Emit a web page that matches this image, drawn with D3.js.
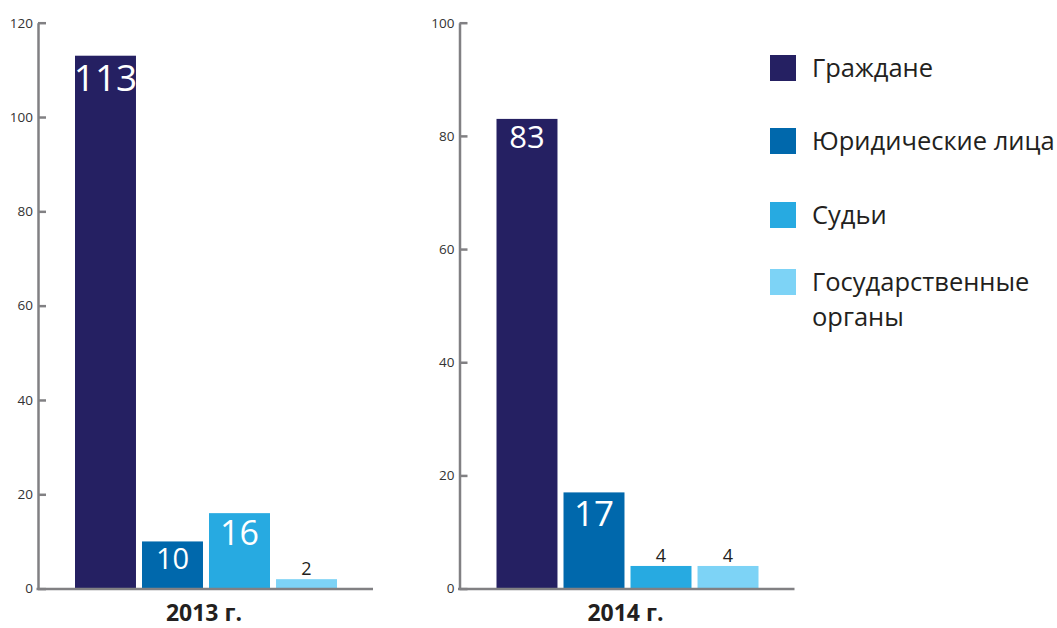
<!DOCTYPE html>
<html>
	<head>
		<script type="text/javascript" src="https://cdn.jsdelivr.net/npm/d3@7/dist/d3.min.js"></script>
		<style>
body {
	margin: 0;
	background-color: white;
}

text {
	font-family: "Open Sans", "Noto Sans", sans-serif;
}

text.tick-label {
	fill: #333;
	font-size: 13.5px;
}

text.year {
	text-anchor: middle;
	fill: #231f20;
	font-weight: bold;
	font-size: 23px;
}

text.legend {
	fill: #231f20;
	font-size: 25.5px;
}
		</style>
	</head>
	<body>
		<script>

// data
var categories = ["Граждане", "Юридические лица", "Судьи", "Государственные органы"];
var years = ["2013 г.", "2014 г."];
var values2013 = [113, 10, 16, 2];
var values2014 = [83, 17, 4, 4];
var ticks2013 = [0, 20, 40, 60, 80, 100, 120];
var ticks2014 = [0, 20, 40, 60, 80, 100];

var colors = ["#252062", "#0068ac", "#27aae1", "#7dd3f6"];

// label look per bar (inside = white text in the bar)
var labelStyle2013 = [{size: 37, inside: true}, {size: 29, inside: true}, {size: 34, inside: true}, {size: 18, inside: false}];
var labelStyle2014 = [{size: 31, inside: true}, {size: 35, inside: true}, {size: 18, inside: false}, {size: 18, inside: false}];

var w = 1057;
var h = 628;

var svg = d3.select("body").append("svg")
	.attr("width", w)
	.attr("height", h);

var yTop = 22.7;
var yBottom = 588.6;

function drawChart(axisX, values, ticks, year, labelStyle) {
	var g = svg.append("g");

	var y = d3.scaleLinear()
		.domain([0, ticks[ticks.length - 1]])
		.range([yBottom, yTop]);

	var x = d3.scaleBand()
		.domain(categories)
		.range([axisX + 37, axisX + 299])
		.paddingInner(0.09)
		.paddingOuter(0);

	// y axis
	var yAxis = d3.axisLeft(y)
		.tickValues(ticks)
		.tickSizeInner(-8)
		.tickSizeOuter(0)
		.tickPadding(5);

	var ax = g.append("g")
		.attr("transform", "translate(" + axisX + ",0)")
		.call(yAxis);
	ax.select(".domain").attr("stroke", "#818083").attr("stroke-width", 2.5);
	ax.selectAll(".tick line").attr("stroke", "#818083").attr("stroke-width", 2.5);
	ax.selectAll(".tick text").attr("class", "tick-label")
		.attr("font-size", null).attr("font-family", null).attr("fill", null);

	// bars
	g.selectAll("rect.bar").data(values).enter().append("rect")
		.attr("class", "bar")
		.attr("x", function(d, i) { return x(categories[i]); })
		.attr("y", function(d) { return y(d); })
		.attr("width", x.bandwidth())
		.attr("height", function(d) { return y(0) - y(d); })
		.style("fill", function(d, i) { return colors[i]; });

	// base line
	g.append("line")
		.attr("x1", axisX - 1.5)
		.attr("x2", axisX + 335)
		.attr("y1", y(0) + 0.5)
		.attr("y2", y(0) + 0.5)
		.attr("stroke", "#818083")
		.attr("stroke-width", 2.5);

	// value labels
	g.selectAll("text.value").data(values).enter().append("text")
		.attr("class", "value")
		.attr("text-anchor", "middle")
		.attr("x", function(d, i) { return x(categories[i]) + x.bandwidth() / 2; })
		.attr("y", function(d, i) {
			var s = labelStyle[i];
			return s.inside ? y(d) + s.size * 0.92 + 1 : y(d) - 4;
		})
		.attr("font-size", function(d, i) { return labelStyle[i].size + "px"; })
		.attr("fill", function(d, i) { return labelStyle[i].inside ? "white" : "#231f20"; })
		.text(function(d) { return d; });

	// year
	g.append("text")
		.attr("class", "year")
		.attr("x", x.range()[0] + (x.range()[1] - x.range()[0]) / 2 - 2)
		.attr("y", 621)
		.text(year);
}

drawChart(38, values2013, ticks2013, years[0], labelStyle2013);
drawChart(459.5, values2014, ticks2014, years[1], labelStyle2014);

// legend
var legendY = [55, 128, 202, 269];
var legend = svg.append("g");
categories.forEach(function(c, i) {
	legend.append("rect")
		.attr("x", 770)
		.attr("y", legendY[i])
		.attr("width", 26)
		.attr("height", 26)
		.style("fill", colors[i]);
	var t = legend.append("text")
		.attr("class", "legend")
		.attr("x", 812)
		.attr("y", legendY[i] + 22);
	var words = c.split(" ");
	if (i == 3) {
		t.append("tspan").attr("x", 812).text(words[0]);
		t.append("tspan").attr("x", 812).attr("dy", 35).text(words[1]);
	} else {
		t.text(c);
	}
});

		</script>
	</body>
</html>
